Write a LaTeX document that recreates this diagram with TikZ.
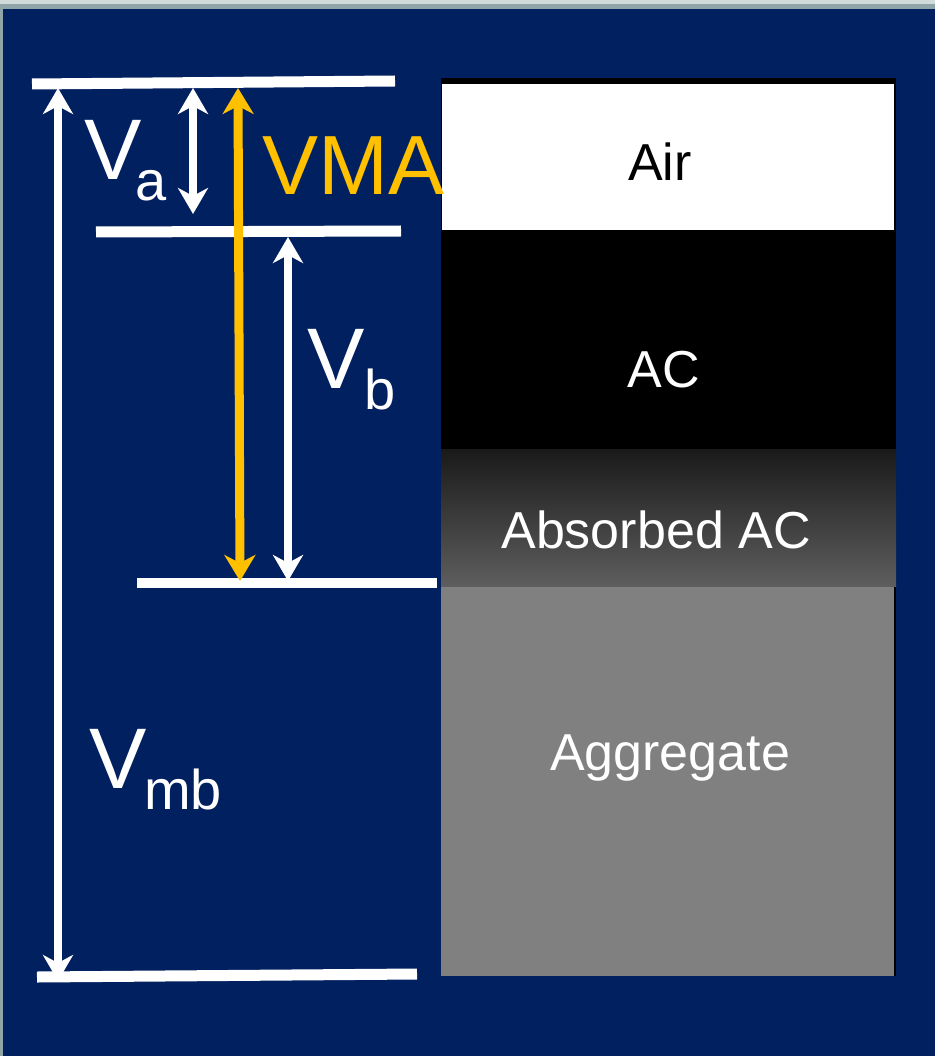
\documentclass[tikz,border=0pt]{standalone}
\usepackage{fontspec}
\setmainfont{Liberation Sans}
\usetikzlibrary{arrows.meta}
\definecolor{navy}{RGB}{0,32,96}
\definecolor{edgegrey}{RGB}{143,165,168}
\definecolor{vmayellow}{RGB}{255,192,0}
\definecolor{absorbtop}{RGB}{26,26,26}
\definecolor{absorbbot}{RGB}{94,94,94}
\definecolor{agggrey}{RGB}{128,128,128}
\tikzset{
  levelline/.style={draw=white,line width=11pt},
  dimarrow/.style={draw=white,line width=8pt,{Stealth[length=26pt,width=30pt,inset=8pt]}-{Stealth[length=26pt,width=30pt,inset=8pt]}},
  vmaarrow/.style={draw=vmayellow,line width=9pt,{Stealth[length=26pt,width=31pt,inset=8pt]}-{Stealth[length=26pt,width=31pt,inset=8pt]}},
  bigV/.style={text=white,inner sep=0pt,anchor=base west,font=\fontsize{86}{86}\selectfont},
  subV/.style={text=white,inner sep=0pt,anchor=base west,font=\fontsize{56}{56}\selectfont},
  boxtext/.style={inner sep=0pt,anchor=base,font=\fontsize{52}{52}\selectfont}
}
\begin{document}
\begin{tikzpicture}[x=1pt,y=-1pt]
\useasboundingbox (0,0) rectangle (935,1056);
% background
\fill[edgegrey] (0,0) rectangle (935,1056);
\fill[edgegrey!40] (0,0) rectangle (935,4);
\fill[navy] (3,9) rectangle (935,1056);
% component column
\fill[black] (441,78) rectangle (896,449);
\fill[white] (442,84) rectangle (894,230);
\shade[top color=absorbtop,bottom color=absorbbot] (441,449) rectangle (896,587);
\fill[black] (441,587) rectangle (896,976);
\fill[agggrey] (441,587) rectangle (894,976);
\node[boxtext,text=black] (air) at (660,181) {Air};
\node[boxtext,text=white] (ac) at (664,387) {AC};
\node[boxtext,text=white] (absac) at (656,548) {Absorbed AC};
\node[boxtext,text=white] (agg) at (670,770) {Aggregate};
% level lines
\coordinate (t1) at (32,84); \coordinate (t2) at (395,81);
\coordinate (m1) at (96,232); \coordinate (m2) at (401,231);
\coordinate (l1) at (137,583); \coordinate (l2) at (437,583);
\coordinate (b1) at (37,977); \coordinate (b2) at (417,974);
\draw[levelline] (t1) -- (t2);
\draw[levelline] (m1) -- (m2);
\draw[levelline,line width=10pt] (l1) -- (l2);
\draw[levelline] (b1) -- (b2);
% dimension arrows
\coordinate (vmbtop) at (58,88); \coordinate (vmbbot) at (58,981);
\coordinate (vatop) at (193,88); \coordinate (vabot) at (193,214);
\coordinate (vmatop) at (238,88); \coordinate (vmabot) at (240,581);
\coordinate (vbtop) at (288,237); \coordinate (vbbot) at (288,581);
\draw[dimarrow] (vmbtop) -- (vmbbot);
\draw[dimarrow] (vatop) -- (vabot);
\draw[vmaarrow] (vmatop) -- (vmabot);
\draw[dimarrow] (vbtop) -- (vbbot);
% labels
\node[bigV] (va) at (84,180) {V};
\node[subV] (vasub) at (135,201) {a};
\node[bigV,text=vmayellow,font=\fontsize{84}{84}\selectfont] (vma) at (262,195) {VMA};
\node[bigV] (vb) at (307,388) {V};
\node[subV] (vbsub) at (364,409) {b};
\node[bigV] (vmb) at (89,788) {V};
\node[subV] (vmbsub) at (144,809) {mb};
\end{tikzpicture}
\end{document}
